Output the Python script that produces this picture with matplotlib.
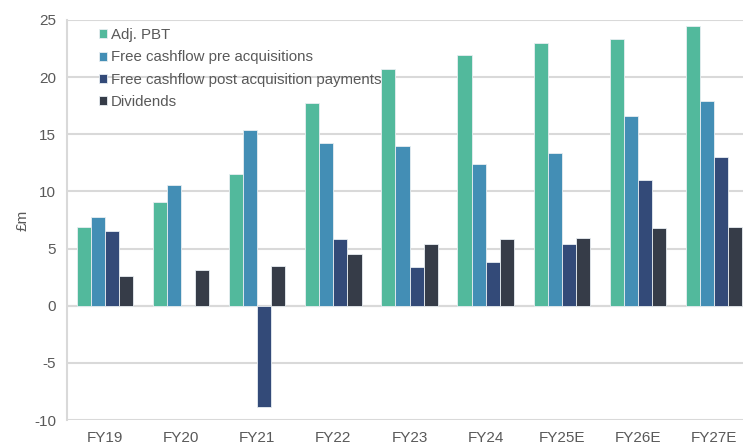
import numpy as np
import matplotlib.pyplot as plt

plt.rcParams['font.family'] = ['Liberation Sans', 'DejaVu Sans']

years = ['FY19', 'FY20', 'FY21', 'FY22', 'FY23', 'FY24', 'FY25E', 'FY26E', 'FY27E']
adj_pbt = [6.9, 9.1, 11.5, 17.7, 20.7, 21.9, 23.0, 23.3, 24.5]
fcf_pre = [7.8, 10.6, 15.4, 14.2, 14.0, 12.4, 13.4, 16.6, 17.9]
fcf_post = [6.5, 0.0, -8.9, 5.8, 3.4, 3.8, 5.4, 11.0, 13.0]
dividends = [2.6, 3.1, 3.5, 4.5, 5.4, 5.8, 5.9, 6.8, 6.9]

labels = ['Adj. PBT', 'Free cashflow pre acquisitions',
          'Free cashflow post acquisition payments', 'Dividends']
colors = ['#52B99C', '#438EB5', '#334A78', '#363C48']
series = [adj_pbt, fcf_pre, fcf_post, dividends]

grey = '#595959'
fig = plt.figure(figsize=(7.43, 4.44), dpi=100)
ax = fig.add_axes([67/743, 24/444, 685/743, 400/444])

x = np.arange(len(years))
w = 0.185
for i, (vals, c, lab) in enumerate(zip(series, colors, labels)):
    ax.bar(x + (i - 1.5) * w, vals, w, color=c, label=lab,
           edgecolor='#E8EEF2', linewidth=0.6, zorder=3)

ax.set_xlim(-0.5, len(years) - 0.5)
ax.set_ylim(-10, 25)
ax.set_yticks(range(-10, 26, 5))
ax.set_yticklabels([str(v) for v in range(-10, 26, 5)])
ax.set_xticks(x)
ax.set_xticklabels(years)
ax.yaxis.grid(True, color='#D9D9D9', linewidth=1.5, zorder=0)
ax.axhline(0, color='#D9D9D9', linewidth=1.5, zorder=2)
for s in ['top', 'right', 'bottom']:
    ax.spines[s].set_visible(False)
ax.spines['left'].set_color('#D9D9D9')
ax.spines['left'].set_linewidth(1.5)
ax.tick_params(axis='y', length=0, labelsize=11, colors=grey, pad=8)
ax.tick_params(axis='x', length=0, labelsize=11, colors=grey, pad=8)
ax.set_ylabel('£m', color=grey, fontsize=11, labelpad=3)

ax.legend(loc='upper left', bbox_to_anchor=(0.035, 1.0), frameon=False,
          fontsize=10.8, labelcolor=grey, handlelength=0.55, handleheight=0.55,
          handletextpad=0.25, labelspacing=0.55, borderaxespad=0.15)

fig.savefig('out.png', dpi=100)
